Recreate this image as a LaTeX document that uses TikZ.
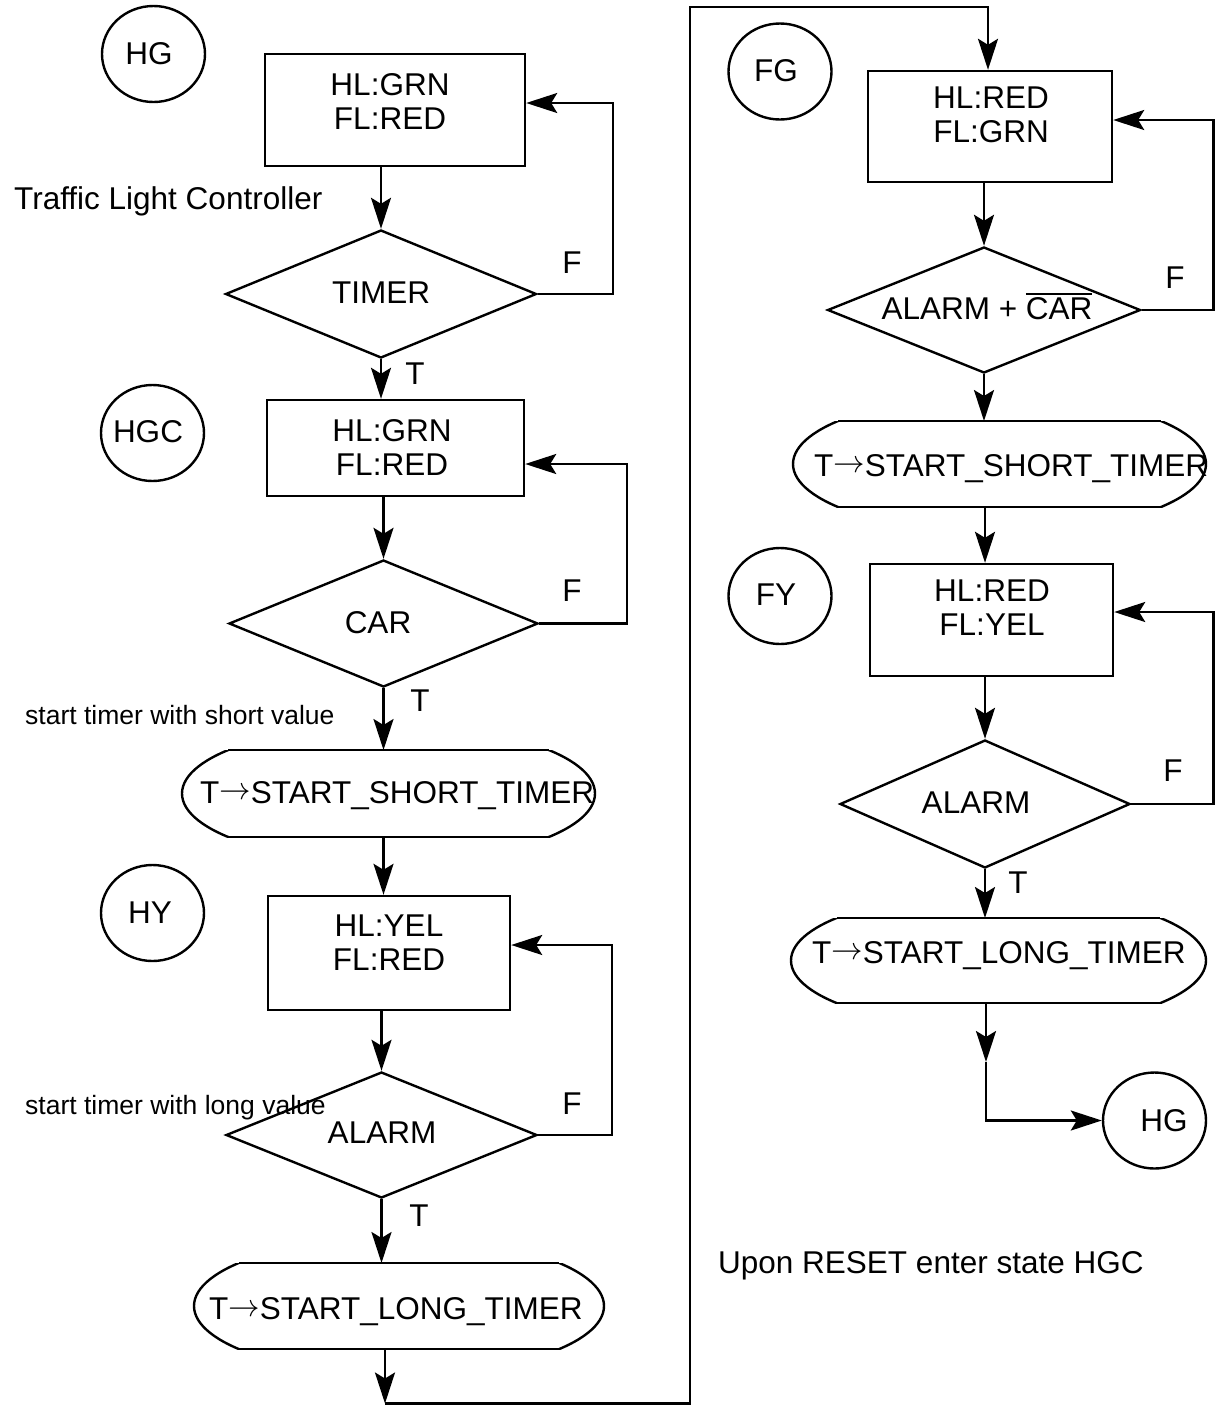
\RequirePackage{fix-cm}
\documentclass[tikz,border=0pt]{standalone}
\usepackage{fontspec}
\setmainfont{Liberation Sans}
\usetikzlibrary{arrows.meta,shapes.geometric}
\newcommand\truncoval[5]{%
  \begin{scope}
    \clip (#1-#3-6,#2-#5) rectangle (#1+#3+6,#2+#5);
    \draw[ln] (#1,#2) ellipse [x radius=#3, y radius=#4];
  \end{scope}
  \pgfmathsetmacro\tochord{#3*sqrt(1-(#5/#4)^2)}%
  \draw[ln] (#1-\tochord,#2-#5) -- (#1+\tochord,#2-#5)
            (#1-\tochord,#2+#5) -- (#1+\tochord,#2+#5);
}
\newcommand\myoverbar[1]{\setbox0\hbox{#1}\rlap{\rule[25pt]{\wd0}{1.8pt}}\box0}
\newcommand\myarrow{\raisebox{3.5pt}{$\rightarrow$}}
\begin{document}
\begin{tikzpicture}[x=1pt,y=-1pt,
  ln/.style={line width=2.4pt, line join=miter},
  arr/.style={ln, -{Stealth[length=31pt,width=20pt,inset=6pt]}},
  txt/.style={font=\fontsize{31.5}{34.5}\selectfont, inner sep=0pt},
  small/.style={font=\fontsize{26.5}{30}\selectfont, inner sep=0pt},
  state/.style={ellipse, draw, ln, minimum width=103pt, minimum height=96pt, inner sep=0pt},
  box/.style={rectangle, draw, ln, inner sep=0pt},
  dec/.style={diamond, draw, ln, inner sep=0pt},
  ovalbox/.style={rectangle, inner sep=0pt, outer sep=0pt}]
\path[fill=white,use as bounding box] (0,0) rectangle (1215,1406);

% ---------------- left column ----------------
\node[state] (hg1) at (153.5,54) {};
\node[txt] (hg1t) at (149,53.5) {HG};
\node[box, minimum width=260pt, minimum height=112pt] (b1) at (395,110) {};
\node[txt, align=center] (b1t) at (390,101.5) {HL:GRN\\FL:RED};
\node[txt, anchor=base west] (title) at (14,209) {Traffic Light Controller};
\node[dec, minimum width=311pt, minimum height=128pt] (d1) at (381,294) {};
\node[txt] (d1t) at (381,293) {TIMER};
\node[txt, anchor=base] (f1) at (572,273) {F};
\node[txt, anchor=base] (t1) at (415,384) {T};

\node[state] (hgc) at (152.5,433) {};
\node[txt] (hgct) at (148,432) {HGC};
\node[box, minimum width=257pt, minimum height=96pt] (b2) at (395.5,448) {};
\node[txt, align=center] (b2t) at (392,447.5) {HL:GRN\\FL:RED};
\node[dec, minimum width=309pt, minimum height=127pt] (d2) at (383.5,623.5) {};
\node[txt] (d2t) at (378,622.5) {CAR};
\node[txt, anchor=base] (f2) at (572,601) {F};
\node[txt, anchor=base] (t2) at (420,711) {T};
\node[small, anchor=base west] (n1) at (25,724) {start timer with short value};

\truncoval{388.5}{793.5}{206.5}{69}{43.5}
\node[ovalbox, minimum width=413pt, minimum height=87pt] (o1) at (388.5,793.5) {};
\node[txt, anchor=base west] (o1t) at (200,803) {T\myarrow START\_SHORT\_TIMER};

\node[state] (hy) at (152.5,913) {};
\node[txt] (hyt) at (150,912.5) {HY};
\node[box, minimum width=242pt, minimum height=114pt] (b3) at (389,953) {};
\node[txt, align=center] (b3t) at (389,942.5) {HL:YEL\\FL:RED};
\node[dec, minimum width=311pt, minimum height=126pt] (d3) at (381.5,1135) {};
\node[txt] (d3t) at (382,1133) {ALARM};
\node[txt, anchor=base] (f3) at (572,1114) {F};
\node[txt, anchor=base] (t3) at (419,1226) {T};
\node[small, anchor=base west] (n2) at (25,1114) {start timer with long value};

\truncoval{399}{1306}{205}{69}{43}
\node[ovalbox, minimum width=410pt, minimum height=86pt] (o2) at (399,1306) {};
\node[txt, anchor=base west] (o2t) at (209,1319.5) {T\myarrow START\_LONG\_TIMER};

% ---------------- right column ----------------
\node[state] (fg) at (780,71.5) {};
\node[txt] (fgt) at (776,71) {FG};
\node[box, minimum width=244pt, minimum height=111pt] (b4) at (990,126.5) {};
\node[txt, align=center] (b4t) at (991,115) {HL:RED\\FL:GRN};
\node[dec, minimum width=313pt, minimum height=126pt] (d4) at (984,310) {};
\node[txt, anchor=base] (d4t) at (987,319.5) {ALARM + \myoverbar{CAR}};
\node[txt, anchor=base] (f4) at (1175,288) {F};

\truncoval{999.5}{464}{206.5}{69}{43}
\node[ovalbox, minimum width=413pt, minimum height=86pt] (o3) at (999.5,464) {};
\node[txt, anchor=base west] (o3t) at (814,476) {T\myarrow START\_SHORT\_TIMER};

\node[state] (fy) at (780,596) {};
\node[txt] (fyt) at (776,595) {FY};
\node[box, minimum width=243pt, minimum height=112pt] (b5) at (991.5,620) {};
\node[txt, align=center] (b5t) at (992,607.5) {HL:RED\\FL:YEL};
\node[dec, minimum width=290pt, minimum height=128pt] (d5) at (985,804) {};
\node[txt] (d5t) at (976,803) {ALARM};
\node[txt, anchor=base] (f5) at (1173,781) {F};
\node[txt, anchor=base] (t5) at (1018,893) {T};

\truncoval{998.5}{960.5}{207.5}{68}{42.5}
\node[ovalbox, minimum width=415pt, minimum height=85pt] (o4) at (998.5,960.5) {};
\node[txt, anchor=base west] (o4t) at (812,963) {T\myarrow START\_LONG\_TIMER};

\node[state] (hg2) at (1154.5,1120.5) {};
\node[txt] (hg2t) at (1164,1120.5) {HG};

\node[txt, anchor=base west] (reset) at (718,1273) {Upon RESET enter state HGC};

% ---------------- helper coordinates ----------------
\coordinate (k1) at (613,103);
\coordinate (k2) at (627,464);
\coordinate (k3) at (612,945);
\coordinate (k4) at (1213.5,120);
\coordinate (k5) at (1213.5,612);
\coordinate (bot) at (385,1403.5);
\coordinate (c1) at (690,1403.5);
\coordinate (c2) at (690,7);
\coordinate (c3) at (988,7);
\coordinate (mid) at (986,1062);

% ---------------- connectors: left ----------------
\draw[arr] (d1.north |- b1.south) -- (d1.north);
\draw[arr] (d1.east) -| (k1) -- (k1 -| b1.east);
\draw[arr] (d1.south) -- (d1.south |- b2.north);
\draw[arr] (d2.north |- b2.south) -- (d2.north);
\draw[arr] (d2.east) -| (k2) -- (k2 -| b2.east);
\draw[arr] (d2.south) -- (d2.south |- o1.north);
\draw[arr] (d2.south |- o1.south) -- (d2.south |- b3.north);
\draw[arr] (d3.north |- b3.south) -- (d3.north);
\draw[arr] (d3.east) -| (k3) -- (k3 -| b3.east);
\draw[arr] (d3.south) -- (d3.south |- o2.north);
\draw[arr] (bot |- o2.south) -- (bot);
\draw[arr] (bot) -- (c1) -- (c2) -- (c3) -- (c3 |- b4.north);

% ---------------- connectors: right ----------------
\draw[arr] (d4.north |- b4.south) -- (d4.north);
\draw[arr] (d4.east) -| (k4) -- (k4 -| b4.east);
\draw[arr] (d4.south) -- (d4.south |- o3.north);
\draw[arr] (d5.north |- o3.south) -- (d5.north |- b5.north);
\draw[arr] (d5.north |- b5.south) -- (d5.north);
\draw[arr] (d5.east) -| (k5) -- (k5 -| b5.east);
\draw[arr] (d5.south) -- (d5.south |- o4.north);
\draw[arr] (mid |- o4.south) -- (mid);
\draw[arr] (mid) |- (hg2.west);
\end{tikzpicture}
\end{document}
